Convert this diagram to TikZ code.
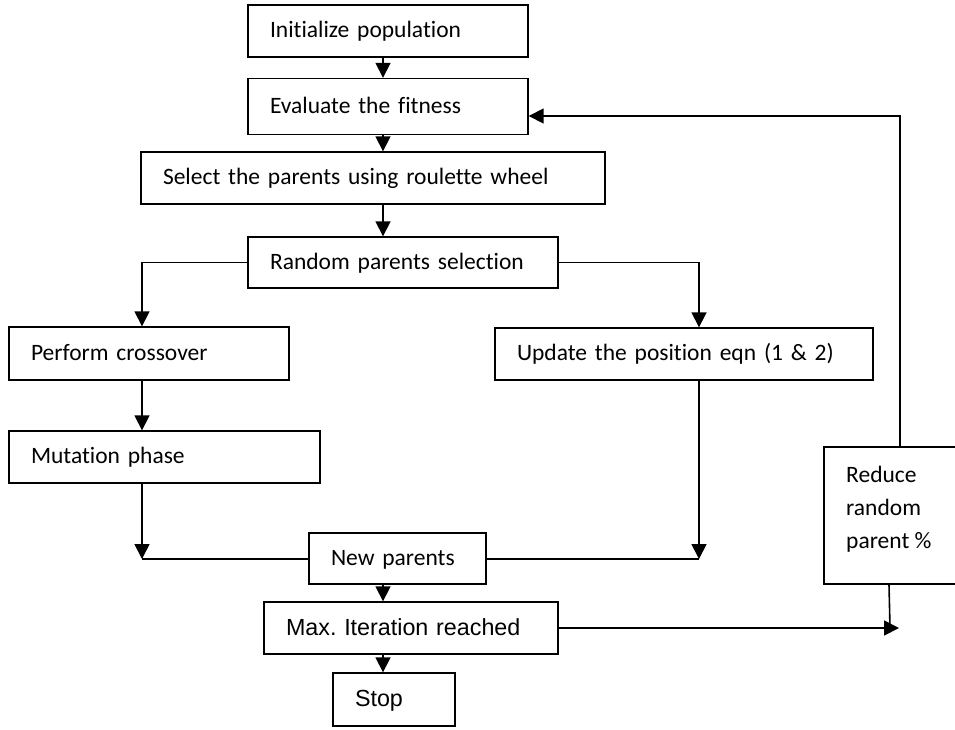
\documentclass[tikz,border=0pt]{standalone}
\usepackage{fontspec}
\setmainfont{Carlito}[Ligatures=NoCommon]
\newfontfamily\arialf{Liberation Sans}
\usetikzlibrary{arrows.meta}
\frenchspacing
\begin{document}
\begin{tikzpicture}[x=1pt,y=-1pt,
 box/.style={draw, line width=1.4pt, inner xsep=22pt, inner ysep=0pt, align=left,
   font=\fontsize{23.5}{28}\selectfont, text height=15pt, text depth=2pt},
 abox/.style={box, font=\arialf\fontsize{23.3}{28}\selectfont, text height=17pt, text depth=3pt},
 arr/.style={line width=1.7pt, -{Triangle[length=15pt,width=15pt]}},
 ln/.style={line width=1.6pt}]
\useasboundingbox (0,0) rectangle (955,729);

\node[box, minimum height=52pt, text width=236pt] (init) at (388,31) {Initialize population};
\node[box, minimum height=56pt, text width=236pt] (eval) at (388,106.5) {Evaluate the fitness};
\node[box, minimum height=52pt, text width=420pt] (sel) at (373,178) {Select the parents using roulette wheel};
\node[box, minimum height=51pt, text width=266pt] (rand) at (403,262.5) {Random parents selection};
\node[box, minimum height=52pt, text width=334pt] (upd) at (684,354) {Update the position eqn (1 \& 2)};
\node[box, minimum height=53pt, text width=236pt] (cross) at (149,353.5) {Perform crossover};
\node[box, minimum height=52pt, text width=267pt] (mut) at (164.5,457) {Mutation phase};
\node[box, minimum height=51pt, text width=133pt] (newp) at (397.5,558.5) {New parents};
\node[abox, minimum height=52pt, text width=250pt] (maxit) at (411,628) {Max. Iteration reached};
\node[abox, minimum height=53pt, text width=78pt] (stop) at (394,699.5) {Stop};
\node[draw, line width=1.4pt, inner sep=0pt, minimum width=151pt, minimum height=137pt] (red) at (899.5,515.5) {};
\node[anchor=north west, inner sep=0pt, align=left, font=\fontsize{23.5}{33}\selectfont] (redtxt) at (846,466) {Reduce\\random\\parent \%};

\coordinate (cx) at (383,0);
\coordinate (lx) at (142,0);
\coordinate (rx) at (699,0);
\coordinate (jl) at (142,559);
\coordinate (jr) at (699,559);
\coordinate (mr) at (899,628);
\coordinate (rb) at (889,0);
\coordinate (jb) at (890,628);
\coordinate (fb) at (900,116);

\draw[arr] (init.south -| cx) -- (eval.north -| cx);
\draw[arr] (eval.south -| cx) -- (sel.north -| cx);
\draw[arr] (sel.south -| cx) -- (rand.north -| cx);
\draw[arr] (rand.west) -| (cross.north -| lx);
\draw[arr] (rand.east) -| (upd.north -| rx);
\draw[arr] (cross.south -| lx) -- (mut.north -| lx);
\draw[arr] (mut.south -| jl) -- (jl);
\draw[ln] (jl) -- (newp.west |- jl);
\draw[arr] (upd.south -| jr) -- (jr);
\draw[ln] (jr) -- (newp.east |- jr);
\draw[arr] (newp.south -| cx) -- (maxit.north -| cx);
\draw[arr] (maxit.south -| cx) -- (stop.north -| cx);
\draw[arr] (maxit.east) -- (mr);
\draw[ln] (red.south -| rb) -- (jb);
\draw[arr] (red.north -| fb) -- (fb) -- (eval.east |- fb);
\end{tikzpicture}
\end{document}
